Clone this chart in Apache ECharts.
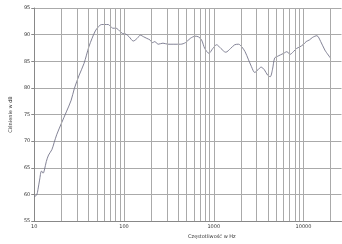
<!DOCTYPE html>
<html>
<head>
<meta charset="utf-8">
<script src="https://cdn.jsdelivr.net/npm/echarts@6/dist/echarts.min.js"></script>
<style>html,body{margin:0;padding:0;background:#fff;}#c{width:342px;height:244px;}</style>
</head>
<body>
<div id="c"></div>
<script>
var freqs = [10, 10.64, 10.99, 11.46, 12.04, 12.56, 12.97, 13.63, 14.43, 15.70, 16.63, 17.77, 20.12, 22.77, 25.78, 27.97,
  31.66, 35.84, 40.56, 44.03, 47.90, 51.97, 56.39, 61.37, 66.62, 71.22, 75.40, 81.80, 88.99, 96.58,
  104.8, 114.0, 126.9, 140.1, 152.0, 165.4, 179.5, 194.8, 208.3, 220.5, 239.9, 271.5, 309.7, 359.4, 427.3,
  483.8, 547.6, 619.8, 672.9, 731.8, 794.1, 883.6, 975.5, 1077, 1201, 1360, 1539, 1712, 1891, 2053, 2233,
  2423, 2628, 2860, 3104, 3368, 3664, 3978, 4253, 4502, 4767, 5096, 5530, 6016, 6528, 7087, 7709, 8367,
  9078, 9876, 10718, 11633, 12657, 14078, 15546, 17297, 20000];
var spl = [59.6, 59.9, 60.9, 62.7, 64.4, 64.0, 64.6, 66.2, 67.4, 68.4, 69.7, 71.2, 73.4, 75.5, 77.7, 79.9,
  82.4, 84.6, 87.7, 89.3, 90.7, 91.5, 91.9, 91.9, 91.9, 91.5, 91.2, 91.2, 90.7, 90.2,
  90.1, 89.6, 88.8, 89.3, 89.9, 89.6, 89.3, 89.0, 88.5, 88.7, 88.2, 88.4, 88.2, 88.2, 88.2,
  88.5, 89.3, 89.7, 89.6, 89.0, 87.4, 86.5, 87.4, 88.1, 87.4, 86.7, 87.4, 88.1, 88.2, 87.7, 86.8,
  85.4, 84.0, 82.9, 83.4, 83.9, 83.4, 82.4, 82.1, 83.4, 85.6, 85.9, 86.2, 86.5, 86.8, 86.3, 86.8, 87.4,
  87.7, 88.1, 88.7, 89.0, 89.5, 89.8, 88.7, 87.1, 85.6];
var gridFreqs = [20, 30, 40, 50, 60, 70, 80, 90, 100, 200, 300, 400, 500, 600, 700, 800, 900, 1000,
  2000, 3000, 4000, 5000, 6000, 7000, 8000, 9000, 10000, 20000];
var xLabels = [10, 100, 1000, 10000];
var yMin = 55, yMax = 95, yStep = 5;
var xMin = 10, xMax = 26500;

var chart = echarts.init(document.getElementById('c'), null, {renderer: 'canvas'});
var font = 'DejaVu Sans';
var data = freqs.map(function (f, i) { return [f, spl[i]]; });
chart.setOption({
  animation: false,
  backgroundColor: '#ffffff',
  grid: {left: 23.5, right: 0.5, top: 8, bottom: 22.3, containLabel: false},
  xAxis: {
    type: 'log', logBase: 10, min: xMin, max: xMax,
    name: 'Częstotliwość w Hz', nameLocation: 'middle', nameGap: 8.5,
    nameTextStyle: {fontFamily: font, fontSize: 5, color: '#333', padding: [0, 0, 0, 48]},
    axisLine: {show: true, lineStyle: {color: '#888', width: 1}},
    axisTick: {show: false},
    splitLine: {show: false},
    axisLabel: {
      fontFamily: font, fontSize: 5, color: '#333', margin: 3,
      showMaxLabel: false,
      formatter: function (v) { return xLabels.indexOf(Math.round(v)) >= 0 ? String(Math.round(v)) : ''; }
    }
  },
  yAxis: {
    type: 'value', min: yMin, max: yMax, interval: yStep,
    name: 'Ciśnienie w dB', nameLocation: 'middle', nameGap: 9.5, nameRotate: 90,
    nameTextStyle: {fontFamily: font, fontSize: 5, color: '#333'},
    axisLine: {show: true, lineStyle: {color: '#888', width: 1}},
    axisTick: {show: true, length: 3, lineStyle: {color: '#888'}},
    splitLine: {show: true, lineStyle: {color: '#aaa', width: 1}},
    axisLabel: {fontFamily: font, fontSize: 5, color: '#333', margin: 4}
  },
  series: [{
    type: 'line',
    data: data,
    showSymbol: false,
    smooth: 0.3,
    lineStyle: {color: '#75758a', width: 0.9},
    markLine: {
      silent: true,
      symbol: ['none', 'none'],
      label: {show: false},
      lineStyle: {color: '#aaa', width: 1, type: 'solid'},
      data: gridFreqs.map(function (f) { return {xAxis: f}; })
    },
    z: 3
  }]
});
</script>
</body>
</html>
